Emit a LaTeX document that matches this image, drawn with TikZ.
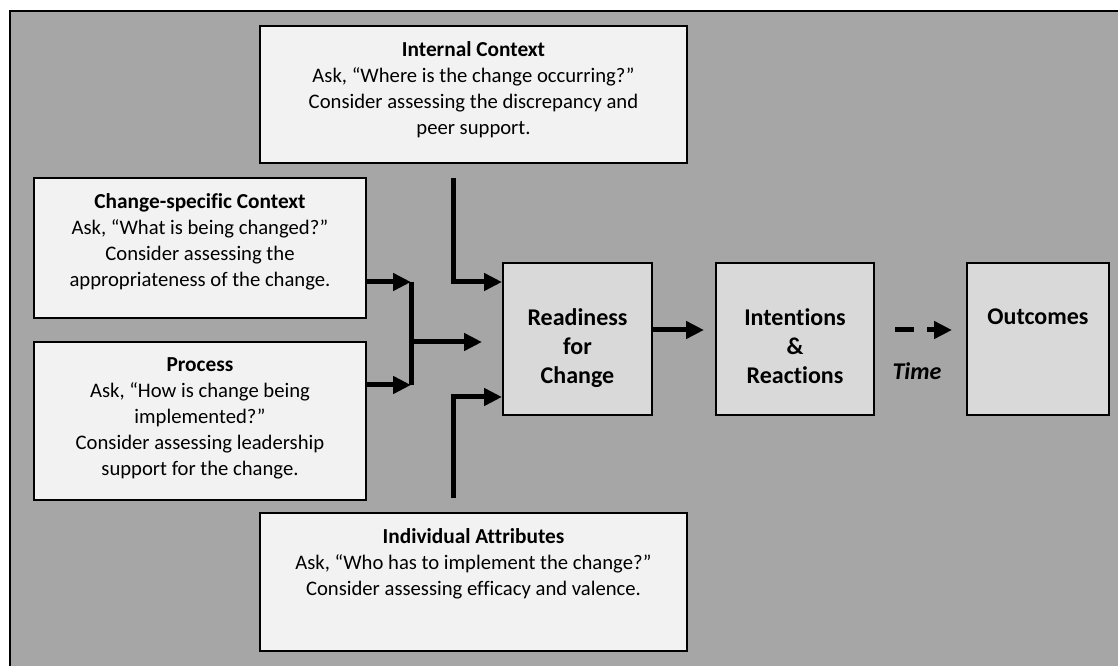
\documentclass[tikz,border=0pt]{standalone}
\usepackage{fontspec}
\setmainfont{Carlito}[Ligatures=NoCommon]
\usetikzlibrary{arrows.meta}
\definecolor{framegray}{RGB}{166,166,166}
\definecolor{sidefill}{RGB}{242,242,242}
\definecolor{midfill}{RGB}{217,217,217}

\begin{document}
\begin{tikzpicture}[x=0.75pt, y=-0.75pt,
        sidebox/.style={draw=black, line width=1.5pt, fill=sidefill, inner sep=0pt},
        midbox/.style={draw=black, line width=1.5pt, fill=midfill, inner sep=0pt},
        sidetext/.style={anchor=north, align=center, inner sep=0pt, font=\fontsize{15.5pt}{19.5pt}\selectfont},
        midtext/.style={anchor=north, align=center, inner sep=0pt, font=\fontsize{18pt}{21.75pt}\selectfont\bfseries},
        flow/.style={line width=3.75pt, -{Triangle[length=13.5pt, width=12.75pt]}},
        bar/.style={line width=3.75pt}]
         \useasboundingbox (0, 0) rectangle (1118, 666);
         \fill[framegray] (10, 11) rectangle (1118, 666);
         \draw[line width=1.5pt] (10, 666) to (10, 11) to (1118, 11);
         \node[sidebox, minimum width=320.25pt, minimum height=102.75pt] (ic) at (473.5, 94.5) {};
             \node[sidetext, yshift=-12.5pt] (ictext) at (ic.north) {{\fontsize{16pt}{19.5pt}\selectfont\bfseries Internal Context}\\Ask, “Where is the change occurring?”\\Consider assessing the discrepancy and\\peer support.};
         \node[sidebox, minimum width=249pt, minimum height=105pt] (cs) at (200, 248) {};
             \node[sidetext, yshift=-12.5pt] (cstext) at (cs.north) {{\fontsize{16pt}{19.5pt}\selectfont\bfseries Change-specific Context}\\Ask, “What is being changed?”\\Consider assessing the\\appropriateness of the change.};
         \node[sidebox, minimum width=249pt, minimum height=118.5pt] (proc) at (200, 421) {};
             \node[sidetext, yshift=-12.5pt] (proctext) at (proc.north) {{\fontsize{16pt}{19.5pt}\selectfont\bfseries Process}\\Ask, “How is change being\\implemented?”\\Consider assessing leadership\\support for the change.};
         \node[sidebox, minimum width=320.25pt, minimum height=103.5pt] (ia) at (473.5, 582) {};
             \node[sidetext, yshift=-12.5pt] (iatext) at (ia.north) {{\fontsize{16pt}{19.5pt}\selectfont\bfseries Individual Attributes}\\Ask, “Who has to implement the change?”\\Consider assessing efficacy and valence.};
         \node[midbox, minimum width=111.75pt, minimum height=114pt] (rfc) at (577.5, 339) {};
             \node[midtext, yshift=-34.5pt] (rfctext) at (rfc.north) {Readiness\\for\\Change};
         \node[midbox, minimum width=118.5pt, minimum height=114pt] (intent) at (795, 339) {};
             \node[midtext, yshift=-34.5pt] (intenttext) at (intent.north) {Intentions\\\&\\Reactions};
         \node[midbox, minimum width=106.5pt, minimum height=114pt] (outc) at (1038, 339) {};
             \node[midtext, yshift=-34.5pt] (outctext) at (outc.north) {Outcomes};
         \coordinate (topjoin) at (411, 282);
         \coordinate (midjoin) at (411, 342);
         \coordinate (botjoin) at (411, 385);
         \coordinate (icfoot) at (453, 178);
         \coordinate (iafoot) at (453, 498);
         \coordinate (lowrow) at (0, 397);
         \coordinate (arrowrow) at (0, 330);
         \draw[flow] (cs.east |- topjoin) to (topjoin);
         \draw[flow] (proc.east |- botjoin) to (botjoin);
         \draw[bar] (topjoin) to (botjoin);
         \draw[flow, shorten >=15pt] (midjoin) to (rfc.west |- midjoin);
         \draw[flow] (icfoot) |- (rfc.west |- topjoin);
         \draw[flow] (iafoot) |- (rfc.west |- lowrow);
         \draw[flow, shorten >=8.25pt] (rfc.east |- arrowrow) to (intent.west |- arrowrow);
         \draw[flow, dash pattern=on 14.25pt off 9.75pt, shorten <=15pt, shorten >=10.5pt] (intent.east |- arrowrow) to (outc.west |- arrowrow);
             \node[anchor=base, inner sep=0pt, font=\fontsize{18pt}{21pt}\selectfont\bfseries\itshape] (timelabel) at (917, 380) {Time};
     \end{tikzpicture}
\end{document}
